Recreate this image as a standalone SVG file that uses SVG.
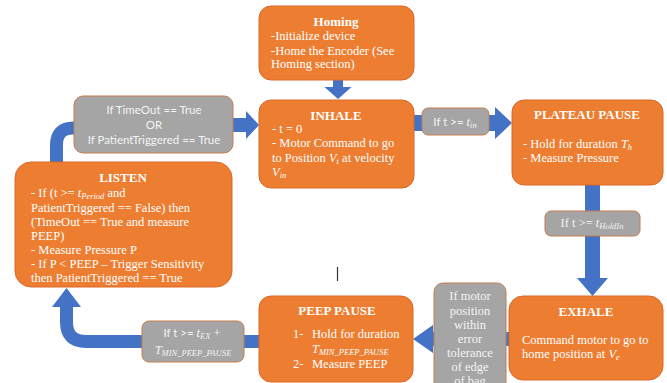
<svg xmlns="http://www.w3.org/2000/svg" width="667" height="383" viewBox="0 0 667 383">
<style>
.box{fill:#ED7D31;stroke:#d9692a;stroke-width:1}
.cond{fill:#A5A5A5;stroke:#c47d4e;stroke-width:1}
.arr{fill:#4472C4;stroke:none}
.pipe{fill:none;stroke:#4472C4;stroke-width:13}
.t{font-family:"Liberation Serif","Times New Roman",serif;font-size:12.5px;fill:#fff}
.h{font-family:"Liberation Serif","Times New Roman",serif;font-size:13px;font-weight:bold;fill:#fff;text-anchor:middle}
.s{font-family:Lato,"Liberation Sans",sans-serif;font-size:11.5px;fill:#f4f4f4;text-anchor:middle}
.ct{font-family:"Liberation Serif","Times New Roman",serif;font-size:12.5px;fill:#f4f4f4;text-anchor:middle}
.i{font-style:italic}
.sub{font-style:italic;font-size:8.5px}
</style>
<rect width="667" height="383" fill="#fff"/>
<g id="connectors">
<polygon class="arr" points="333,80 343,80 343,87 351.5,87 338,99 324.5,87 333,87"/>
<path class="pipe" d="M56.5 163 V145 Q56.5 128 73.5 128 H80"/>
<polygon class="arr" points="230,118 246,118 246,111 259,125 246,139 246,132 230,132"/>
<polygon class="arr" points="414,115 495,115 495,107 512,123 495,139 495,131 414,131"/>
<polygon class="arr" points="585,185 600,185 600,278 608,278 592.5,296 577,278 585,278" stroke="#9db3e0" stroke-width="1"/>
<polygon class="arr" points="509,332 433,332 433,325 413,339 433,353 433,346 509,346"/>
<path class="pipe" d="M260 341.5 H86 Q66.5 341.5 66.5 322 V306"/>
<polygon class="arr" points="52,307 81,307 66.5,288"/>
</g>
<g id="homing">
<rect class="box" x="259" y="6" width="155" height="74" rx="12"/>
<text class="h" x="336" y="26">Homing</text>
<text class="t" x="271" y="40">-Initialize device</text>
<text class="t" x="271" y="54.5">-Home the Encoder (See</text>
<text class="t" x="271" y="68">Homing section)</text>
</g>
<g id="inhale">
<rect class="box" x="259" y="100" width="155" height="88" rx="12"/>
<text class="h" x="336" y="120">INHALE</text>
<text class="t" x="272" y="133">- t = 0</text>
<text class="t" x="272" y="147">- Motor Command to go</text>
<text class="t" x="272" y="162">to Position <tspan class="i">V</tspan><tspan class="sub" dy="2">t</tspan><tspan dy="-2"> at velocity</tspan></text>
<text class="t" x="272" y="176"><tspan class="i">V</tspan><tspan class="sub" dy="2">in</tspan></text>
</g>
<g id="cond-timeout">
<rect class="cond" x="74" y="96" width="159" height="57" rx="9"/>
<text class="s" x="154" y="114">If TimeOut == True</text>
<text class="s" x="154" y="129">OR</text>
<text class="s" x="154" y="144">If PatientTriggered == True</text>
</g>
<g id="cond-tin">
<rect class="cond" x="422" y="108" width="67" height="27" rx="6"/>
<text class="s" x="455" y="126">If t &gt;= <tspan class="i" font-family="Liberation Serif,serif" font-size="12.5">t</tspan><tspan class="sub" font-family="Liberation Serif,serif" dy="2">in</tspan></text>
</g>
<g id="plateau">
<rect class="box" x="512" y="100" width="151" height="85" rx="12"/>
<text class="h" x="587" y="119">PLATEAU PAUSE</text>
<text class="t" x="523" y="148">- Hold for duration <tspan class="i">T</tspan><tspan class="sub" dy="2">h</tspan></text>
<text class="t" x="523" y="162">- Measure Pressure</text>
</g>
<g id="cond-holdin">
<rect class="cond" x="545" y="211" width="95" height="25" rx="6"/>
<text class="ct" x="592" y="227">If t &gt;= <tspan class="i">t</tspan><tspan class="sub" dy="2">HoldIn</tspan></text>
</g>
<g id="listen">
<rect class="box" x="15" y="162" width="217" height="125" rx="16"/>
<text class="h" x="123" y="182">LISTEN</text>
<text class="t" x="31" y="197">- If (t &gt;= <tspan class="i">t</tspan><tspan class="sub" dy="2">Period</tspan><tspan dy="-2"> and</tspan></text>
<text class="t" x="31" y="212">PatientTriggered == False) then</text>
<text class="t" x="31" y="226">(TimeOut == True and measure</text>
<text class="t" x="31" y="240">PEEP)</text>
<text class="t" x="31" y="254">- Measure Pressure P</text>
<text class="t" x="31" y="268">- If P &lt; PEEP – Trigger Sensitivity</text>
<text class="t" x="31" y="282">then PatientTriggered == True</text>
</g>
<g id="exhale">
<rect class="box" x="509" y="296" width="154" height="84" rx="14"/>
<text class="h" x="586" y="316">EXHALE</text>
<text class="t" x="522" y="344">Command motor to go to</text>
<text class="t" x="522" y="358">home position at <tspan class="i">V</tspan><tspan class="sub" dy="2">e</tspan></text>
</g>
<g id="cond-position">
<rect class="cond" x="434" y="283" width="72" height="115" rx="9"/>
<text class="ct" x="470" y="300">If motor</text>
<text class="ct" x="470" y="315">position</text>
<text class="ct" x="470" y="329">within</text>
<text class="ct" x="470" y="343">error</text>
<text class="ct" x="470" y="357">tolerance</text>
<text class="ct" x="470" y="371">of edge</text>
<text class="ct" x="470" y="385">of bag</text>
</g>
<g id="peep">
<rect class="box" x="259" y="296" width="154" height="86" rx="12"/>
<text class="h" x="337" y="315">PEEP PAUSE</text>
<text class="t" x="293" y="338">1-</text>
<text class="t" x="312" y="338">Hold for duration</text>
<text class="t" x="312" y="353"><tspan class="i">T</tspan><tspan class="sub" dy="1.5">MIN_PEEP_PAUSE</tspan></text>
<text class="t" x="293" y="368">2-</text>
<text class="t" x="312" y="368">Measure PEEP</text>
</g>
<g id="cond-tex">
<rect class="cond" x="142" y="321" width="102" height="41" rx="7"/>
<text class="s" x="192" y="337">If t &gt;= <tspan class="i" font-family="Liberation Serif,serif" font-size="12.5">t</tspan><tspan class="sub" font-family="Liberation Serif,serif" dy="2">EX</tspan><tspan font-family="Liberation Serif,serif" font-size="12.5" dy="-2"> +</tspan></text>
<text class="ct" x="193" y="354"><tspan class="i">T</tspan><tspan class="sub" dy="1.5">MIN_PEEP_PAUSE</tspan></text>
</g>
<line x1="337.5" y1="267" x2="337.5" y2="281" stroke="#333" stroke-width="1.2"/>
</svg>
